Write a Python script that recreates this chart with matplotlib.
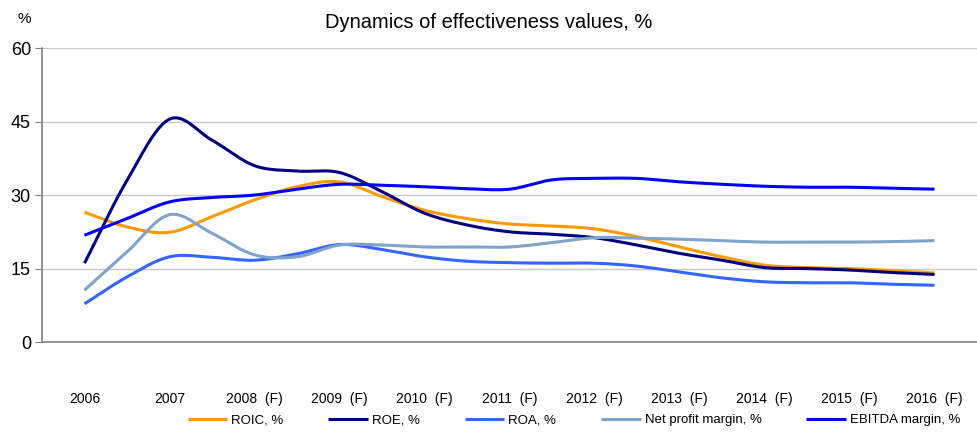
import numpy as np
import matplotlib.pyplot as plt
from matplotlib import font_manager

years = ['2006', '2007', '2008  (F)', '2009  (F)', '2010  (F)', '2011  (F)',
         '2012  (F)', '2013  (F)', '2014  (F)', '2015  (F)', '2016  (F)']

# values read at half-year steps (2006, 2006.5, 2007, ... 2016)
steps = np.arange(0, 10.5, 0.5)
roic = [26.5, 23.5, 22.4, 25.6, 29.0, 31.7, 32.7, 29.7, 26.9, 25.2, 24.1,
        23.7, 23.1, 21.5, 19.4, 17.4, 15.7, 15.2, 15.0, 14.6, 14.1]
roe = [16.1, 33.0, 45.5, 41.2, 36.0, 34.9, 34.6, 30.7, 26.3, 23.9, 22.5,
       22.0, 21.3, 19.8, 18.1, 16.7, 15.2, 15.0, 14.7, 14.2, 13.8]
roa = [7.8, 13.3, 17.4, 17.3, 16.7, 18.0, 19.9, 18.9, 17.4, 16.5, 16.2,
       16.1, 16.1, 15.5, 14.3, 13.1, 12.3, 12.1, 12.1, 11.8, 11.6]
net_margin = [10.6, 18.4, 26.0, 22.2, 17.8, 17.4, 19.8, 19.8, 19.4, 19.4, 19.4,
              20.3, 21.3, 21.2, 21.0, 20.7, 20.4, 20.4, 20.4, 20.5, 20.7]
ebitda = [21.8, 25.2, 28.6, 29.5, 30.0, 31.2, 32.2, 32.0, 31.7, 31.3, 31.2,
          33.1, 33.4, 33.4, 32.7, 32.2, 31.8, 31.6, 31.6, 31.4, 31.2]

series = [('ROIC, %', roic, '#FF9900'),
          ('ROE, %', roe, '#000080'),
          ('ROA, %', roa, '#3366FF'),
          ('Net profit margin, %', net_margin, '#7FA3CC'),
          ('EBITDA margin, %', ebitda, '#0000FF')]

names = {f.name for f in font_manager.fontManager.ttflist}
narrow = 'Liberation Sans Narrow' if 'Liberation Sans Narrow' in names else 'Liberation Sans'
plt.rcParams['font.family'] = [narrow, 'DejaVu Sans']


def smooth(x, y, n=12):
    # catmull-rom curve through the points, like excel's smoothed line
    x = np.asarray(x, float)
    y = np.asarray(y, float)
    px = np.concatenate([[2 * x[0] - x[1]], x, [2 * x[-1] - x[-2]]])
    py = np.concatenate([[2 * y[0] - y[1]], y, [2 * y[-1] - y[-2]]])
    t = np.linspace(0, 1, n, endpoint=False)
    xs, ys = [], []
    for i in range(1, len(px) - 2):
        for p, out in ((px, xs), (py, ys)):
            p0, p1, p2, p3 = p[i - 1], p[i], p[i + 1], p[i + 2]
            out.extend(0.5 * (2 * p1 + (-p0 + p2) * t + (2 * p0 - 5 * p1 + 4 * p2 - p3) * t ** 2
                              + (-p0 + 3 * p1 - 3 * p2 + p3) * t ** 3))
    xs.append(x[-1])
    ys.append(y[-1])
    return xs, ys


fig = plt.figure(figsize=(9.77, 4.33), dpi=100)
ax = fig.add_axes([0.043, 0.21, 0.957, 0.679])

for label, vals, col in series:
    sx, sy = smooth(steps, vals)
    ax.plot(sx, sy, color=col, lw=2.2, label=label, solid_capstyle='butt')

ax.set_xlim(-0.5, 10.5)
ax.set_ylim(0, 60)
ax.set_yticks([0, 15, 30, 45, 60])
ax.set_xticks(range(len(years)))
ax.set_xticklabels(years)
ax.tick_params(axis='x', length=0, pad=36, labelsize=10)
ax.tick_params(axis='y', length=5, color='#808080', labelsize=13, pad=3)
ax.grid(axis='y', color='#C8C8C8', lw=1)
ax.set_axisbelow(True)
for s in ['top', 'right']:
    ax.spines[s].set_visible(False)
ax.spines['left'].set_color('#808080')
ax.spines['bottom'].set_color('#808080')
ax.spines['left'].set_linewidth(1.2)
ax.spines['bottom'].set_linewidth(1.2)

fig.text(0.5, 0.948, 'Dynamics of effectiveness values, %', ha='center', va='center', fontsize=14.5)
fig.text(0.018, 0.955, '%', ha='left', va='center', fontsize=11)

fig.legend(loc='lower right', bbox_to_anchor=(0.995, -0.012), ncol=5, frameon=False,
           fontsize=9.5, handlelength=3.0, handletextpad=0.3, columnspacing=3.4)

fig.savefig('out.png', dpi=100)
